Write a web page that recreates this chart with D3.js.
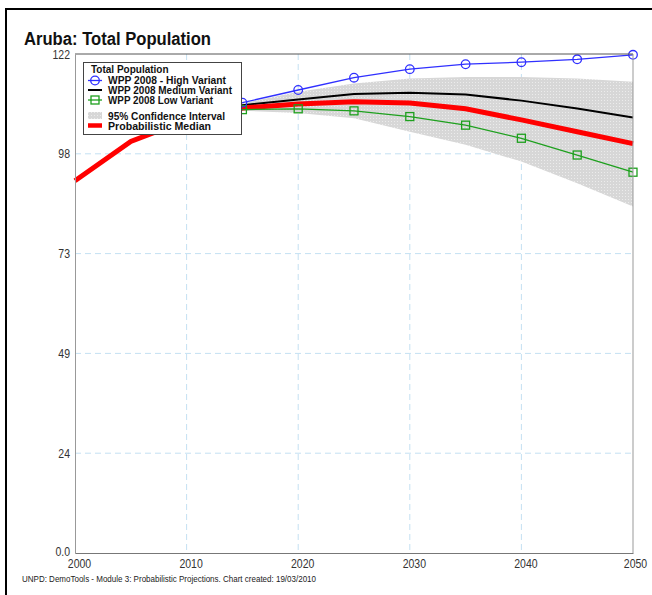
<!DOCTYPE html>
<html><head><meta charset="utf-8">
<script src="https://cdn.jsdelivr.net/npm/d3@7"></script>
<style>body{margin:0;background:#fff}svg{display:block}text{font-family:"Liberation Sans",Arial,sans-serif}</style>
</head><body><svg id="c" width="652" height="595"></svg>
<script>
const years = [2000,2005,2010,2015,2020,2025,2030,2035,2040,2045,2050];
const median = [91.0,100.6,105.8,108.8,109.8,110.3,110.0,108.6,105.9,103.0,100.1];
const varYears = [2010,2015,2020,2025,2030,2035,2040,2045,2050];
const high = [107.5,110.1,113.2,116.2,118.3,119.5,120.0,120.7,121.8];
const medium = [107.3,109.5,110.9,112.2,112.5,112.1,110.6,108.7,106.5];
const low = [107.0,108.4,108.6,108.1,106.7,104.6,101.4,97.3,93.1];
const ciYears = [2010,2015,2020,2025,2030,2035,2040,2045,2050];
const ciUpper = [107.0,109.9,112.8,114.8,116.0,116.4,116.4,116.0,115.2];
const ciLower = [107.0,108.1,107.6,106.3,103.0,99.8,95.7,90.4,84.7];
const yTickValues = [0,24.4,48.8,73.2,97.6,122];
const yTickLabels = ["0.0","24","49","73","98","122"];
const xTickValues = [2000,2010,2020,2030,2040,2050];
const xTickLabels = ["2000","2010","2020","2030","2040","2050"];
const legendItems = ["WPP 2008 - High Variant","WPP 2008 Medium Variant","WPP 2008 Low Variant","95% Confidence Interval","Probabilistic Median"];

const svg = d3.select("#c");
const x = d3.scaleLinear([2000,2050],[75,633]);
const y = d3.scaleLinear([0,122],[553,54]);

// outer frame
svg.append("rect").attr("x",6).attr("y",9).attr("width",700).attr("height",700)
  .attr("fill","none").attr("stroke","#000").attr("stroke-width",2);

// title
svg.append("text").attr("x",24).attr("y",44.5).attr("font-size",18).attr("font-weight","bold")
  .attr("textLength",187).attr("lengthAdjust","spacingAndGlyphs").attr("fill","#111").text("Aruba: Total Population");

// pattern for CI
const defs = svg.append("defs");
const pat = defs.append("pattern").attr("id","dots").attr("width",3).attr("height",3).attr("patternUnits","userSpaceOnUse");
pat.append("rect").attr("width",3).attr("height",3).attr("fill","#d7d7d7");
pat.append("rect").attr("x",1).attr("y",1).attr("width",1).attr("height",1).attr("fill","#ececec");

// grid
const grid = svg.append("g");
grid.selectAll("line.v").data(xTickValues.slice(1,-1)).join("line")
  .attr("x1",d=>x(d)).attr("x2",d=>x(d)).attr("y1",54).attr("y2",553)
  .attr("stroke","#c4e0f2").attr("stroke-dasharray","6,4");
grid.selectAll("line.h").data(yTickValues.slice(1,-1)).join("line")
  .attr("y1",d=>y(d)).attr("y2",d=>y(d)).attr("x1",75).attr("x2",633)
  .attr("stroke","#c4e0f2").attr("stroke-dasharray","6,4");

// CI area
const ci = ciYears.map((yr,i)=>({yr,lo:ciLower[i],hi:ciUpper[i]}));
svg.append("path").datum(ci).attr("fill","url(#dots)")
  .attr("d",d3.area().x(d=>x(d.yr)).y0(d=>y(d.lo)).y1(d=>y(d.hi)));

// lines
const line = d3.line().x(d=>x(d[0])).y(d=>y(d[1]));
const zip = (a,b)=>a.map((v,i)=>[v,b[i]]);
svg.append("path").datum(zip(varYears,medium)).attr("d",line).attr("fill","none").attr("stroke","#000").attr("stroke-width",2);
svg.append("path").datum(zip(years,median)).attr("d",line).attr("fill","none").attr("stroke","#ff0000").attr("stroke-width",5);
svg.append("path").datum(zip(varYears,low)).attr("d",line).attr("fill","none").attr("stroke","#1ea01e").attr("stroke-width",1.3);
svg.selectAll("rect.low").data(zip(varYears,low)).join("rect").attr("class","low")
  .attr("x",d=>x(d[0])-4).attr("y",d=>y(d[1])-4).attr("width",8).attr("height",8)
  .attr("fill","none").attr("stroke","#1ea01e").attr("stroke-width",1.3);
svg.append("path").datum(zip(varYears,high)).attr("d",line).attr("fill","none").attr("stroke","#3030ff").attr("stroke-width",1.3);
svg.selectAll("circle.high").data(zip(varYears,high)).join("circle").attr("class","high")
  .attr("cx",d=>x(d[0])).attr("cy",d=>y(d[1])).attr("r",4.3)
  .attr("fill","none").attr("stroke","#3030ff").attr("stroke-width",1.3);

// plot border
svg.append("line").attr("x1",75).attr("x2",633).attr("y1",54).attr("y2",54).attr("stroke","#555");
svg.append("line").attr("x1",633).attr("x2",633).attr("y1",54).attr("y2",553).attr("stroke","#999");

// axes
const yAx = svg.append("g").attr("transform","translate(75,0)")
  .call(d3.axisLeft(y).tickValues(yTickValues).tickFormat((d,i)=>yTickLabels[i]).tickSize(0).tickPadding(5));
yAx.select(".domain").attr("stroke","#999");
yAx.selectAll("text").attr("font-size",12.5).attr("fill","#333").attr("font-family","Liberation Sans");
yAx.selectAll(".tick text").filter((d,i)=>i===0).attr("dy","0.22em");
const xAx = svg.append("g").attr("transform","translate(0,553)")
  .call(d3.axisBottom(x).tickValues(xTickValues).tickFormat((d,i)=>xTickLabels[i]).tickSize(0).tickPadding(6));
xAx.select(".domain").attr("stroke","#777");
xAx.selectAll("text").attr("font-size",12.5).attr("fill","#333").attr("font-family","Liberation Sans")
  .attr("dx",(d,i)=>i===xTickValues.length-1?2:4);
svg.selectAll(".tick text").each(function(){const l=this.getComputedTextLength();d3.select(this).attr("textLength",l*0.84).attr("lengthAdjust","spacingAndGlyphs");});

// footer
svg.append("text").attr("x",22).attr("y",581.5).attr("font-size",9.5).attr("fill","#222")
  .attr("textLength",294).attr("lengthAdjust","spacingAndGlyphs")
  .text("UNPD: DemoTools - Module 3: Probabilistic Projections. Chart created: 19/03/2010");

// legend
const lg = svg.append("g");
lg.append("rect").attr("x",83.5).attr("y",62.5).attr("width",158).attr("height",72).attr("fill","#fff").attr("stroke","#444");
lg.append("text").attr("x",91).attr("y",72.5).attr("font-size",10).attr("font-weight","bold").attr("fill","#111").text("Total Population");
const rowsY = [84,94,104,119.5,129.5];
lg.selectAll("text.it").data(legendItems).join("text").attr("class","it")
  .attr("x",108).attr("y",(d,i)=>rowsY[i]).attr("font-size",10).attr("font-weight","bold").attr("fill","#111")
  .attr("textLength",(d,i)=>[118,124,105,117,103][i]).attr("lengthAdjust","spacingAndGlyphs").text(d=>d);
lg.append("line").attr("x1",88).attr("x2",102).attr("y1",80.5).attr("y2",80.5).attr("stroke","#3030ff").attr("stroke-width",1.3);
lg.append("circle").attr("cx",95).attr("cy",80.5).attr("r",4.3).attr("fill","none").attr("stroke","#3030ff").attr("stroke-width",1.3);
lg.append("line").attr("x1",88).attr("x2",102).attr("y1",90).attr("y2",90).attr("stroke","#000").attr("stroke-width",2);
lg.append("line").attr("x1",88).attr("x2",102).attr("y1",100).attr("y2",100).attr("stroke","#1ea01e").attr("stroke-width",1.3);
lg.append("rect").attr("x",91).attr("y",96).attr("width",8).attr("height",8).attr("fill","none").attr("stroke","#1ea01e").attr("stroke-width",1.3);
lg.append("rect").attr("x",88).attr("y",112).attr("width",14).attr("height",7).attr("fill","url(#dots)");
lg.append("line").attr("x1",88).attr("x2",102).attr("y1",125.5).attr("y2",125.5).attr("stroke","#ff0000").attr("stroke-width",4.5);
</script></body></html>
